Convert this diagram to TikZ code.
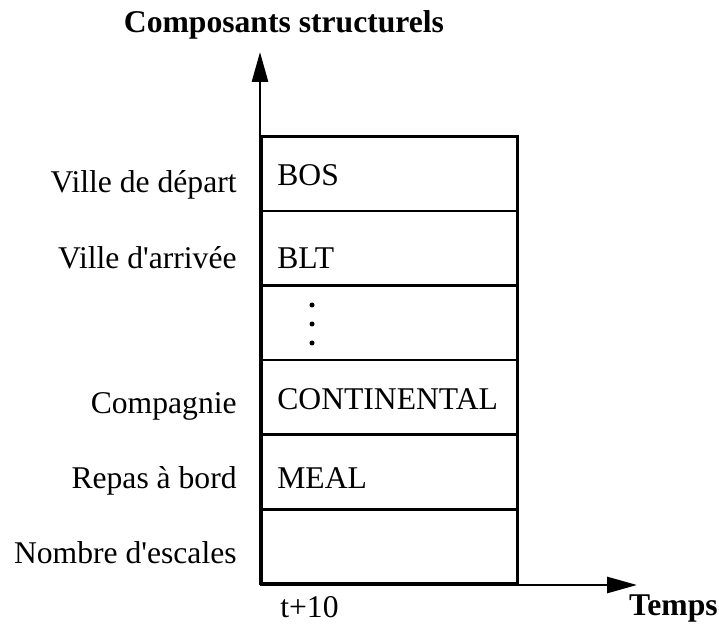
\documentclass[tikz,border=0pt]{standalone}
\usepackage{fontspec}
\setmainfont{Liberation Serif}
\usetikzlibrary{arrows.meta,positioning}
\tikzset{
  texte/.style={font=\fontsize{18}{21}\selectfont, inner sep=0pt},
  titre/.style={texte, font=\fontsize{18}{21}\selectfont\bfseries},
  axe/.style={line width=1.6pt, -{Triangle[length=0.6cm,width=0.32cm]}},
  case/.style={draw, line width=1.6pt, anchor=south west, inner sep=0pt,
    minimum width=5.12cm, minimum height=1.49cm},
  point/.style={circle, fill, inner sep=0pt, minimum size=0.1cm}
}
\begin{document}
\begin{tikzpicture}
				\useasboundingbox (0,0) rectangle (14.38,12.64);
				\path
				(5.2,0.94) coordinate (O)
				(5.2,11.6) coordinate (Y)
				(12.74,0.94) coordinate (X);
				% les cases
				\foreach \y [count=\i] in {8.39,6.90,5.41,3.92,2.43,0.94}
				\node[case] (c\i) at (5.2,\y) {};
				\node[texte, anchor=base west] (v1) at (5.54,8.92) {BOS};
				\node[texte, anchor=base west] (v2) at (5.54,7.26) {BLT};
				\node[texte, anchor=base west] (v4) at (5.54,4.46) {CONTINENTAL};
				\node[texte, anchor=base west] (v5) at (5.54,2.88) {MEAL};
				\foreach \y [count=\i] in {6.54,6.16,5.78}
				\node[point] (p\i) at (6.24,\y) {};
				% les composants
				\node[texte, anchor=base east] (l1) at (4.74,8.78) {Ville de départ};
				\node[texte, anchor=base east] (l2) at (4.74,7.26) {Ville d\textquotesingle arrivée};
				\node[texte, anchor=base east] (l4) at (4.74,4.38) {Compagnie};
				\node[texte, anchor=base east] (l5) at (4.74,2.88) {Repas à bord};
				\node[texte, anchor=base east] (l6) at (4.74,1.38) {Nombre d\textquotesingle escales};
				% les axes
				\draw[axe] (O)--(Y);
				\draw[axe] (O)--(X);
				\node[titre, anchor=base] (cs) at (5.68,11.98) {Composants structurels};
				\node[titre, anchor=base east] (tp) at (14.36,0.34) {Temps};
				\node[texte, anchor=base west] (t0) at (5.6,0.30) {t+10};
			\end{tikzpicture}
\end{document}
